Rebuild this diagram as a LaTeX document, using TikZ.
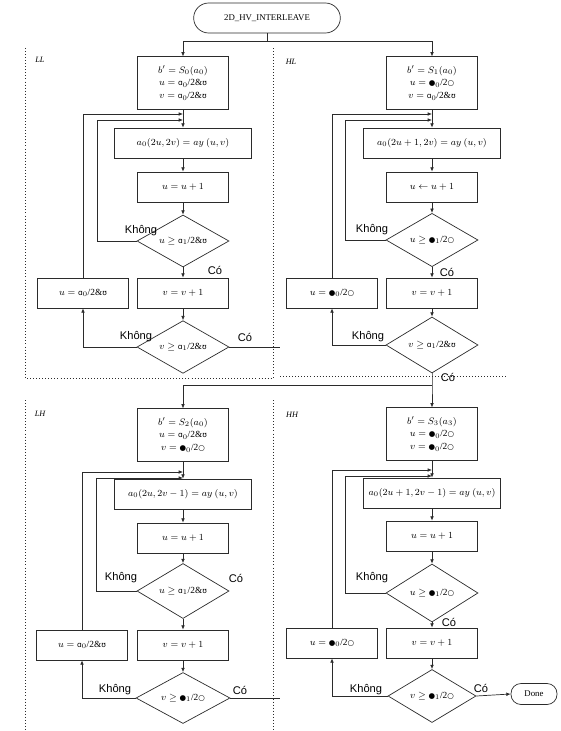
\documentclass[tikz,border=0pt]{standalone}
\usepackage{fontspec}
\setmainfont{Liberation Serif}
\newfontfamily\labfont{Liberation Sans}
\newfontfamily\glyphfont{DejaVu Sans}[Scale=0.8]
\usetikzlibrary{arrows.meta,shapes.geometric,calc}
\definecolor{InkGrey}{HTML}{2B2B2B}
\newcommand{\flr}[1]{{\glyphfont ɑ}$_{#1}$/2\&{\glyphfont ʊ}}
\newcommand{\cel}[1]{{\glyphfont ●}$_{#1}$/2{\glyphfont ○}}

\begin{document}
\begin{tikzpicture}[x=0.03cm, y=-0.03cm,
    every node/.style={font=\fontsize{8}{11}\selectfont},
    initbox/.style={draw=InkGrey, line width=0.6pt, minimum width=2.75cm, minimum height=1.57cm, align=center, inner sep=1pt},
    procbox/.style={draw=InkGrey, line width=0.6pt, minimum width=4.12cm, minimum height=0.9cm, inner sep=1pt},
    smallbox/.style={draw=InkGrey, line width=0.6pt, minimum width=2.75cm, minimum height=0.9cm, inner sep=1pt},
    decision/.style={draw=InkGrey, line width=0.6pt, diamond, aspect=1.8, minimum width=2.76cm, minimum height=1.56cm, inner sep=0pt},
    lbl/.style={font=\labfont\fontsize{9.5}{10}\selectfont, inner sep=1pt},
    tag/.style={font=\itshape\fontsize{7}{8}\selectfont},
    arrow/.style={-{Latex[length=1.3mm,width=1.1mm]}, draw=InkGrey, line width=0.6pt},
    wire/.style={draw=InkGrey, line width=0.6pt},
    panel/.style={dotted, draw=InkGrey, line width=0.6pt}
  ]
    \useasboundingbox (0,0) rectangle (560,731);

    % start
    \node[draw=InkGrey, line width=0.6pt, rounded corners=0.45cm, minimum width=4.4cm, minimum height=0.9cm, font=\fontsize{7.5}{9}\selectfont] (title) at (267,18) {2D\_HV\_INTERLEAVE};
    \coordinate (busTop) at (267,41);

    % panels
    \draw[panel] (25,48) -- (25,378) -- (273,378) -- (273,48);
    \draw[panel] (280,376) -- (508,376);
    \draw[panel] (25,400) -- (25,731);
    \draw[panel] (273,400) -- (273,731);
    \node[tag] (tagLL) at (40,60) {LL};
    \node[tag] (tagHL) at (291,62) {HL};
    \node[tag] (tagLH) at (40,414) {LH};
    \node[tag] (tagHH) at (292,415) {HH};

    % LL
    \node[initbox] (initLL) at (183,83) {$b' = S_0(a_0)$\\ $u = {}$\flr{0}\\ $v = {}$\flr{0}};
    \node[procbox] (procLL) at (183,143) {$a_0(2u, 2v) = ay\ (u, v)$};
    \node[smallbox] (incLL) at (183,187) {$u = u + 1$};
    \node[decision] (decuLL) at (183,241) {$u \geq {}$\flr{1}};
    \node[smallbox] (incvLL) at (183,293) {$v = v + 1$};
    \node[smallbox] (rstLL) at (83,293) {$u = {}$\flr{0}};
    \node[decision, minimum height=1.58cm] (decvLL) at (183,347) {$v \geq {}$\flr{1}};
    \coordinate (loopLLa) at (183,114);
    \coordinate (loopLLb) at (183,120);
    \coordinate (outLL) at (280,347);
    \node[lbl] (knLL1) at (141,231) {Không};
    \node[lbl] (coLL1) at (215,270) {Có};
    \node[lbl] (knLL2) at (136,337) {Không};
    \node[lbl] (coLL2) at (245,337) {Có};
    \draw[arrow] (initLL) -- (procLL);
    \draw[arrow] (procLL) -- (incLL);
    \draw[arrow] (incLL) -- (decuLL);
    \draw[arrow] (decuLL) -- (incvLL);
    \draw[arrow] (incvLL) -- (decvLL);
    \draw[arrow] (decuLL.west) -- ++(-39,0) |- (loopLLb);
    \draw[arrow] (decvLL.west) -| (rstLL.south);
    \draw[arrow] (rstLL.north) |- (loopLLa);
    \draw[wire] (decvLL.east) -- (outLL);

    % HL
    \node[initbox] (initHL) at (432,83) {$b' = S_1(a_0)$\\ $u = {}$\cel{0}\\ $v = {}$\flr{0}};
    \node[procbox] (procHL) at (432,143) {$a_0(2u + 1, 2v) = ay\ (u, v)$};
    \node[smallbox] (incHL) at (432,187) {$u \leftarrow u + 1$};
    \node[decision, minimum height=1.6cm] (decuHL) at (432,240) {$u \geq {}$\cel{1}};
    \node[smallbox] (incvHL) at (432,293) {$v = v + 1$};
    \node[smallbox] (rstHL) at (332,293) {$u = {}$\cel{0}};
    \node[decision, minimum height=1.68cm] (decvHL) at (432,345) {$v \geq {}$\flr{1}};
    \coordinate (loopHLa) at (432,114);
    \coordinate (loopHLb) at (432,120);
    \node[lbl] (knHL1) at (372,230) {Không};
    \node[lbl] (coHL1) at (447,272) {Có};
    \node[lbl] (knHL2) at (368,337) {Không};
    \node[lbl] (coHL2) at (448,377) {Có};
    \draw[arrow] (busTop) -| (initLL.north);
    \draw[arrow] (busTop) -| (initHL.north);
    \draw[wire] (title.south) -- (busTop);
    \draw[arrow] (initHL) -- (procHL);
    \draw[arrow] (procHL) -- (incHL);
    \draw[arrow] (incHL) -- (decuHL);
    \draw[arrow] (decuHL) -- (incvHL);
    \draw[arrow] (incvHL) -- (decvHL);
    \draw[arrow] (decuHL.west) -- ++(-40,0) |- (loopHLb);
    \draw[arrow] (decvHL.west) -| (rstHL.south);
    \draw[arrow] (rstHL.north) |- (loopHLa);

    % LH
    \node[initbox] (initLH) at (183,435) {$b' = S_2(a_0)$\\ $u = {}$\flr{0}\\ $v = {}$\cel{0}};
    \node[procbox] (procLH) at (183,494) {$a_0(2u, 2v - 1) = ay\ (u, v)$};
    \node[smallbox] (incLH) at (183,538) {$u = u + 1$};
    \node[decision, minimum height=1.65cm] (decuLH) at (183,591) {$u \geq {}$\flr{1}};
    \node[smallbox] (incvLH) at (183,645) {$v = v + 1$};
    \node[smallbox] (rstLH) at (82,645) {$u = {}$\flr{0}};
    \node[decision, minimum width=2.82cm, minimum height=1.53cm] (decvLH) at (183,698) {$v \geq {}$\cel{1}};
    \coordinate (loopLHa) at (183,472);
    \coordinate (loopLHb) at (183,478);
    \coordinate (outLH) at (280,698);
    \coordinate (busMid) at (432,385);
    \node[lbl] (knLH1) at (121,578) {Không};
    \node[lbl] (coLH1) at (236,578) {Có};
    \node[lbl] (knLH2) at (115,690) {Không};
    \node[lbl] (coLH2) at (240,690) {Có};
    \draw[arrow] (initLH) -- (procLH);
    \draw[arrow] (procLH) -- (incLH);
    \draw[arrow] (incLH) -- (decuLH);
    \draw[arrow] (decuLH) -- (incvLH);
    \draw[arrow] (incvLH) -- (decvLH);
    \draw[arrow] (decuLH.west) -- ++(-40,0) |- (loopLHb);
    \draw[arrow] (decvLH.west) -| (rstLH.south);
    \draw[arrow] (rstLH.north) |- (loopLHa);
    \draw[wire] (decvLH.east) -- (outLH);

    % HH
    \node[initbox] (initHH) at (432,434) {$b' = S_3(a_3)$\\ $u = {}$\cel{0}\\ $v = {}$\cel{0}};
    \node[procbox] (procHH) at (432,493) {$a_0(2u + 1, 2v - 1) = ay\ (u, v)$};
    \node[smallbox] (incHH) at (432,536) {$u = u + 1$};
    \node[decision, minimum height=1.74cm] (decuHH) at (432,593) {$u \geq {}$\cel{1}};
    \node[smallbox] (incvHH) at (432,643) {$v = v + 1$};
    \node[smallbox] (rstHH) at (332,643) {$u = {}$\cel{0}};
    \node[decision, minimum width=2.64cm, minimum height=1.59cm] (decvHH) at (432,696) {$v \geq {}$\cel{1}};
    \node[draw=InkGrey, line width=0.6pt, rounded corners=0.3cm, minimum width=1.38cm, minimum height=0.63cm, font=\fontsize{7.5}{9}\selectfont] (done) at (534,694) {Done};
    \coordinate (loopHHa) at (432,470);
    \coordinate (loopHHb) at (432,476);
    \node[lbl] (knHH1) at (372,578) {Không};
    \node[lbl] (coHH1) at (449,622) {Có};
    \node[lbl] (knHH2) at (366,690) {Không};
    \node[lbl] (coHH2) at (481,688) {Có};
    \draw[arrow] (decvHL.south) -- (busMid) -- (initHH.north);
    \draw[arrow] (busMid) -| (initLH.north);
    \draw[arrow] (initHH) -- (procHH);
    \draw[arrow] (procHH) -- (incHH);
    \draw[arrow] (incHH) -- (decuHH);
    \draw[arrow] (decuHH) -- (incvHH);
    \draw[arrow] (incvHH) -- (decvHH);
    \draw[arrow] (decuHH.west) -- ++(-40,0) |- (loopHHb);
    \draw[arrow] (decvHH.west) -| (rstHH.south);
    \draw[arrow] (rstHH.north) |- (loopHHa);
    \draw[arrow] (decvHH.east) -- (done.west);
  \end{tikzpicture}
\end{document}
